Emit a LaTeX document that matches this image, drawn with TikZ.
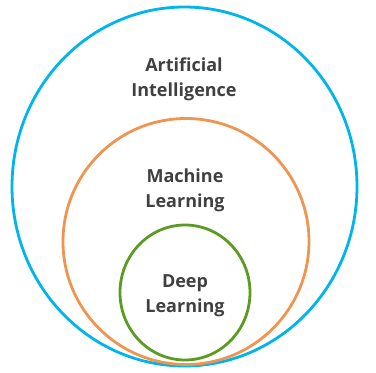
\documentclass[tikz,border=0pt]{standalone}
\usepackage{fontspec}
\setmainfont{Open Sans}
\definecolor{aiblue}{HTML}{00B4EC}
\definecolor{mlorange}{HTML}{F0954F}
\definecolor{dlgreen}{HTML}{5B9B22}
\definecolor{textgray}{HTML}{404040}
\tikzset{
  label text/.style={align=center, text=textgray,
    font=\fontsize{18}{25.5}\selectfont\bfseries}
}
\begin{document}
\begin{tikzpicture}[x=1pt, y=-1pt, line width=2.8pt]
  \useasboundingbox (0,0) rectangle (376,373);
  % los tres círculos
  \draw[aiblue] (184.5,186.5) ellipse (172.5 and 179.5);
  \draw[mlorange] (186,241.5) circle (123);
  \draw[dlgreen] (185,292.5) ellipse (65 and 67.5);
  % los textos
  \node[label text] (ai) at (184,79.5) {Artificial\\Intelligence};
  \node[label text] (ml) at (185,190.5) {Machine\\Learning};
  \node[label text] (dl) at (185,295.5) {Deep\\Learning};
\end{tikzpicture}
\end{document}
